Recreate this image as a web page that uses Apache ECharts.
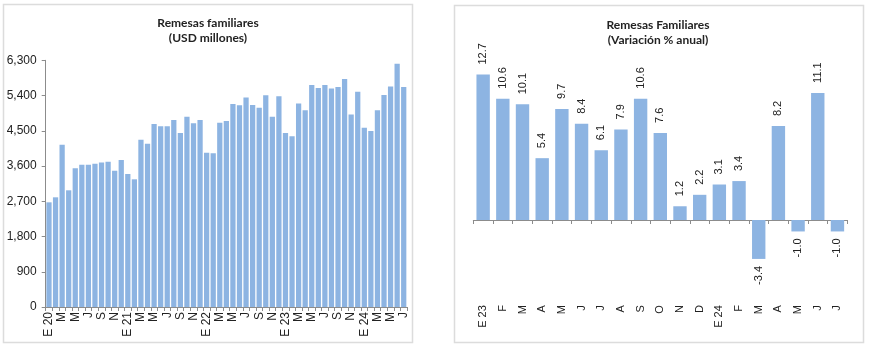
<!DOCTYPE html>
<html>
<head>
<meta charset="utf-8">
<script src="https://cdn.jsdelivr.net/npm/echarts@6/dist/echarts.min.js"></script>
<style>
html,body{margin:0;padding:0;background:#fff;}
#chart{width:869px;height:350px;}
</style>
</head>
<body>
<div id="chart"></div>
<script>
// Left chart: monthly remittances (USD millions), Jan 2020 - Jul 2024
const leftCategories = [
  'E 20','F','M','A','M','J','J','A','S','O','N','D',
  'E 21','F','M','A','M','J','J','A','S','O','N','D',
  'E 22','F','M','A','M','J','J','A','S','O','N','D',
  'E 23','F','M','A','M','J','J','A','S','O','N','D',
  'E 24','F','M','A','M','J','J'
];
const remesasUSD = [
  2673, 2801, 4146, 2980, 3542, 3635, 3635, 3661, 3687, 3712, 3482, 3755,
  3397, 3261, 4274, 4172, 4674, 4615, 4615, 4776, 4444, 4861, 4691, 4776,
  3942, 3925, 4708, 4751, 5185, 5151, 5347, 5159, 5091, 5406, 4861, 5381,
  4444, 4359, 5194, 5023, 5670, 5594, 5670, 5577, 5619, 5824, 4913, 5500,
  4580, 4495, 5023, 5415, 5628, 6210, 5618
];
const leftTitle = ['Remesas familiares', '(USD millones)'];

// Right chart: annual % change, Jan 2023 - Jul 2024
const rightCategories = ['E 23','F','M','A','M','J','J','A','S','O','N','D','E 24','F','M','A','M','J','J'];
const variacionAnual = [12.7, 10.6, 10.1, 5.4, 9.7, 8.4, 6.1, 7.9, 10.6, 7.6, 1.2, 2.2, 3.1, 3.4, -3.4, 8.2, -1.0, 11.1, -1.0];
const rightTitle = ['Remesas Familiares', '(Variación % anual)'];

const BAR = '#8DB4E2';
const AXIS = '#8c8c8c';
const TXT = '#222';
const TICKFONT = 'Liberation Sans, Arial, sans-serif';

const chart = echarts.init(document.getElementById('chart'), null, {renderer: 'canvas'});

const rightData = variacionAnual.map(v => v < 0
  ? {value: v, label: {position: 'bottom', align: 'right', distance: 7}}
  : {value: v});

const option = {
  animation: false,
  backgroundColor: '#fff',
  graphic: [
    {type: 'rect', shape: {x: 3.5, y: 4.5, width: 409, height: 338}, style: {fill: 'none', stroke: '#dcdcdc', lineWidth: 1.5}, silent: true},
    {type: 'rect', shape: {x: 454.5, y: 5.5, width: 409, height: 337}, style: {fill: 'none', stroke: '#dcdcdc', lineWidth: 1.5}, silent: true},
    {type: 'text', x: 208, y: 23.5, style: {text: leftTitle[0], font: 'bold 12px Lato, sans-serif', fill: TXT, textAlign: 'center', textVerticalAlign: 'middle'}},
    {type: 'text', x: 208, y: 38.5, style: {text: leftTitle[1], font: 'bold 12px Lato, sans-serif', fill: TXT, textAlign: 'center', textVerticalAlign: 'middle'}},
    {type: 'text', x: 658, y: 25, style: {text: rightTitle[0], font: 'bold 12px Lato, sans-serif', fill: TXT, textAlign: 'center', textVerticalAlign: 'middle'}},
    {type: 'text', x: 658, y: 40, style: {text: rightTitle[1], font: 'bold 12px Lato, sans-serif', fill: TXT, textAlign: 'center', textVerticalAlign: 'middle'}}
  ],
  grid: [
    {left: 45.7, right: 869 - 407, top: 60.3, bottom: 350 - 307, containLabel: false},
    {left: 473.3, right: 869 - 847.3, top: 59.7, bottom: 350 - 300.15, containLabel: false}
  ],
  xAxis: [
    {
      type: 'category', gridIndex: 0, data: leftCategories, boundaryGap: true,
      axisLine: {show: true, lineStyle: {color: AXIS, width: 1}},
      axisTick: {show: true, interval: 0, length: 4, lineStyle: {color: AXIS}},
      axisLabel: {interval: 1, rotate: 90, margin: 5, fontFamily: TICKFONT, fontSize: 12, color: TXT}
    },
    {
      type: 'category', gridIndex: 1, data: rightCategories, boundaryGap: true, position: 'bottom',
      axisLine: {show: true, onZero: true, lineStyle: {color: AXIS, width: 1}},
      axisTick: {show: true, interval: 0, length: 4, lineStyle: {color: AXIS}},
      axisLabel: {show: false}
    },
    {
      type: 'category', gridIndex: 1, data: rightCategories, boundaryGap: true, position: 'bottom',
      axisLine: {show: false, onZero: false},
      axisTick: {show: false},
      axisLabel: {interval: 0, rotate: 90, margin: 5, fontFamily: TICKFONT, fontSize: 11, color: TXT}
    }
  ],
  yAxis: [
    {
      type: 'value', gridIndex: 0, min: 0, max: 6300, interval: 900,
      axisLine: {show: true, lineStyle: {color: AXIS, width: 1}},
      axisTick: {show: true, length: 4, lineStyle: {color: AXIS}},
      splitLine: {show: false},
      axisLabel: {margin: 9, fontFamily: TICKFONT, fontSize: 12, color: TXT,
        formatter: v => v.toLocaleString('en-US')}
    },
    {
      type: 'value', gridIndex: 1, min: -7, max: 14, interval: 7,
      axisLine: {show: false}, axisTick: {show: false},
      splitLine: {show: false}, axisLabel: {show: false}
    }
  ],
  series: [
    {
      type: 'bar', xAxisIndex: 0, yAxisIndex: 0, data: remesasUSD,
      barCategoryGap: '20%',
      itemStyle: {color: BAR}
    },
    {
      type: 'bar', xAxisIndex: 1, yAxisIndex: 1, data: rightData,
      barCategoryGap: '32%',
      itemStyle: {color: BAR},
      label: {
        show: true, position: 'top', rotate: 90, align: 'left', verticalAlign: 'middle',
        distance: 10, fontFamily: TICKFONT, fontSize: 11, color: TXT,
        formatter: p => Number(p.value).toFixed(1)
      }
    }
  ]
};
chart.setOption(option);
</script>
</body>
</html>
